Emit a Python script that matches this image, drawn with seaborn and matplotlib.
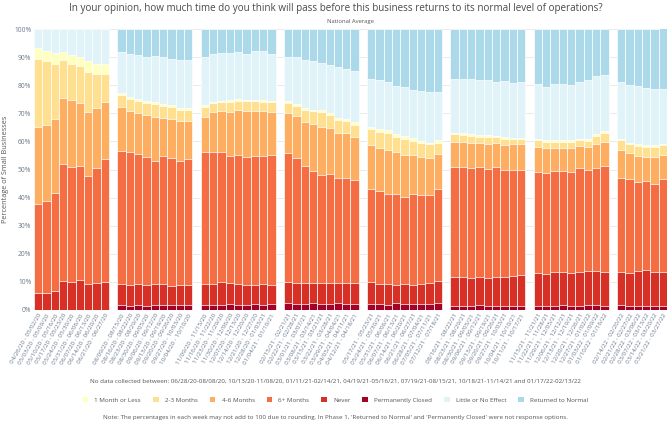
import matplotlib
matplotlib.use("Agg")
import matplotlib.pyplot as plt
from matplotlib.patches import Patch
import numpy as np
import pandas as pd
import seaborn as sns

weeks = [
    "04/26/20 - 05/02/20", "05/03/20 - 05/09/20", "05/10/20 - 05/16/20", "05/17/20 - 05/23/20", "05/24/20 - 05/30/20",
    "05/31/20 - 06/06/20", "06/07/20 - 06/13/20", "06/14/20 - 06/20/20", "06/21/20 - 06/27/20",
    "08/09/20 - 08/15/20", "08/16/20 - 08/22/20", "08/23/20 - 08/29/20", "08/30/20 - 09/05/20", "09/06/20 - 09/12/20",
    "09/13/20 - 09/19/20", "09/20/20 - 09/26/20", "09/27/20 - 10/03/20", "10/04/20 - 10/10/20",
    "11/09/20 - 11/15/20", "11/16/20 - 11/22/20", "11/23/20 - 11/29/20", "11/30/20 - 12/06/20", "12/07/20 - 12/13/20",
    "12/14/20 - 12/20/20", "12/21/20 - 12/27/20", "12/28/20 - 01/03/21", "01/04/21 - 01/10/21",
    "02/15/21 - 02/21/21", "02/22/21 - 02/28/21", "03/01/21 - 03/07/21", "03/08/21 - 03/14/21", "03/15/21 - 03/21/21",
    "03/22/21 - 03/28/21", "03/29/21 - 04/04/21", "04/05/21 - 04/11/21", "04/12/21 - 04/18/21",
    "05/17/21 - 05/23/21", "05/24/21 - 05/30/21", "05/31/21 - 06/06/21", "06/07/21 - 06/13/21", "06/14/21 - 06/20/21",
    "06/21/21 - 06/27/21", "06/28/21 - 07/04/21", "07/05/21 - 07/11/21", "07/12/21 - 07/18/21",
    "08/16/21 - 08/22/21", "08/23/21 - 08/29/21", "08/30/21 - 09/05/21", "09/06/21 - 09/12/21", "09/13/21 - 09/19/21",
    "09/20/21 - 09/26/21", "09/27/21 - 10/03/21", "10/04/21 - 10/10/21", "10/11/21 - 10/17/21",
    "11/15/21 - 11/21/21", "11/22/21 - 11/28/21", "11/29/21 - 12/05/21", "12/06/21 - 12/12/21", "12/13/21 - 12/19/21",
    "12/20/21 - 12/26/21", "12/27/21 - 01/02/22", "01/03/22 - 01/09/22", "01/10/22 - 01/16/22",
    "02/14/22 - 02/20/22", "02/21/22 - 02/27/22", "02/28/22 - 03/06/22", "03/07/22 - 03/13/22", "03/14/22 - 03/20/22",
    "03/21/22 - 03/27/22",
]
phase_sizes = [9, 9, 9, 9, 9, 9, 9, 6]

permanently_closed = [
    0, 0, 0, 0, 0, 0, 0, 0, 0,
    1.8, 1.3, 1.7, 1.5, 1.8, 1.7, 1.7, 1.8, 1.8,
    1.9, 1.7, 1.8, 2.1, 1.8, 1.8, 2.0, 1.8, 2.0,
    2.5, 2.0, 2.1, 2.5, 2.1, 2.1, 2.5, 2.1, 2.1,
    2.1, 2.1, 1.8, 2.4, 2.1, 2.0, 2.1, 2.0, 2.5,
    1.5, 1.5, 1.5, 1.9, 1.5, 1.5, 1.5, 1.5, 1.5,
    1.5, 1.5, 1.5, 1.9, 1.5, 1.5, 1.9, 1.8, 1.5,
    1.8, 1.5, 1.5, 1.5, 1.5, 1.5,
]
never = [
    6.2, 6.2, 6.7, 10.4, 9.8, 10.5, 9.3, 9.5, 9.9,
    7.5, 7.6, 7.6, 7.5, 7.5, 7.5, 6.9, 7.1, 7.2,
    7.4, 7.6, 8.0, 7.4, 7.4, 7.1, 7.0, 7.3, 6.8,
    7.4, 7.5, 7.4, 7.0, 7.4, 7.4, 7.0, 7.5, 7.5,
    7.7, 7.2, 7.5, 6.6, 7.2, 6.9, 7.3, 7.5, 7.9,
    10.2, 10.2, 9.9, 9.9, 9.8, 10.2, 10.2, 10.6, 11.0,
    11.6, 11.2, 12.0, 11.6, 11.6, 12.0, 11.9, 12.0, 12.0,
    11.7, 11.6, 12.3, 12.8, 12.0, 12.0,
]
six_plus = [
    31.5, 32.7, 35.0, 41.5, 41.2, 40.9, 38.4, 40.9, 43.8,
    47.4, 47.2, 46.1, 45.5, 43.8, 45.6, 45.4, 44.1, 44.8,
    46.8, 47.0, 46.3, 45.4, 45.8, 45.7, 45.9, 45.8, 46.4,
    45.8, 44.7, 41.6, 40.0, 38.6, 39.0, 37.3, 37.5, 36.7,
    33.2, 33.1, 32.0, 32.3, 30.8, 32.4, 31.6, 31.5, 32.5,
    39.3, 39.3, 39.0, 39.0, 38.9, 39.1, 38.2, 37.9, 37.5,
    35.9, 36.1, 36.0, 36.0, 35.9, 37.1, 36.1, 36.8, 37.9,
    33.6, 33.4, 31.8, 31.7, 31.3, 33.2,
]
four_six = [
    27.5, 26.9, 26.3, 23.7, 23.6, 22.2, 22.9, 21.6, 20.3,
    15.7, 14.7, 14.8, 14.9, 15.7, 13.7, 14.1, 14.4, 13.5,
    12.7, 14.2, 14.7, 15.6, 16.1, 16.1, 16.0, 15.8, 15.4,
    14.5, 14.8, 15.9, 16.8, 17.1, 16.4, 16.3, 16.0, 15.4,
    15.6, 15.3, 15.7, 15.0, 15.1, 13.8, 13.4, 13.2, 12.6,
    8.9, 8.9, 9.1, 8.7, 9.0, 8.5, 8.7, 8.9, 8.9,
    9.1, 8.9, 8.0, 8.0, 8.5, 7.9, 8.0, 8.6, 8.5,
    9.8, 9.2, 9.3, 8.5, 9.5, 8.4,
]
two_three = [
    24.2, 22.7, 19.7, 13.3, 12.9, 13.3, 14.0, 11.9, 10.0,
    4.1, 4.2, 4.2, 4.1, 4.4, 4.1, 4.0, 3.7, 3.7,
    3.5, 3.0, 3.2, 3.5, 3.3, 3.5, 3.3, 3.2, 3.3,
    3.4, 3.6, 4.2, 4.4, 5.2, 4.5, 4.4, 4.3, 4.3,
    5.7, 5.6, 6.1, 5.2, 5.6, 5.1, 5.0, 4.7, 4.1,
    2.6, 2.4, 2.5, 2.2, 2.5, 2.1, 2.2, 1.8, 1.8,
    2.4, 2.2, 2.4, 2.4, 2.4, 2.0, 2.2, 2.8, 3.1,
    3.6, 3.2, 3.4, 3.6, 3.6, 3.5,
]
one_month = [
    3.9, 3.8, 3.8, 2.8, 3.1, 3.2, 4.0, 3.8, 3.7,
    0.8, 0.7, 0.6, 0.7, 0.7, 0.7, 0.8, 0.7, 0.8,
    0.6, 0.4, 0.5, 0.6, 0.6, 0.7, 0.6, 0.7, 0.6,
    0.6, 0.6, 0.6, 0.6, 0.6, 0.7, 0.8, 0.7, 0.8,
    0.9, 1.0, 0.8, 1.0, 1.1, 0.9, 0.8, 0.7, 0.9,
    0.6, 0.6, 0.6, 0.6, 0.6, 0.6, 0.6, 0.6, 0.6,
    0.3, 0.5, 0.5, 0.5, 0.5, 0.5, 0.6, 0.5, 0.7,
    0.5, 0.7, 0.7, 0.6, 0.8, 0.6,
]
little_effect = [
    6.7, 7.7, 8.5, 8.3, 9.4, 9.9, 11.4, 12.3, 12.3,
    14.5, 15.5, 15.8, 15.9, 16.6, 16.6, 16.5, 17.2, 17.0,
    17.0, 17.2, 16.9, 16.8, 16.8, 16.3, 17.2, 17.4, 16.6,
    16.0, 16.8, 17.0, 17.2, 16.9, 17.2, 18.1, 17.6, 18.3,
    17.1, 17.6, 17.2, 17.3, 17.6, 17.2, 17.9, 17.9, 17.2,
    19.2, 19.4, 19.7, 19.6, 19.6, 19.1, 20.1, 19.4, 20.0,
    19.7, 19.1, 20.2, 20.0, 19.7, 20.1, 21.2, 20.6, 20.0,
    20.3, 20.5, 20.8, 20.3, 20.0, 19.4,
]
returned_normal = [
    0, 0, 0, 0, 0, 0, 0, 0, 0,
    8.2, 8.8, 9.2, 9.9, 9.5, 10.1, 10.6, 11.0, 11.2,
    10.1, 8.9, 8.6, 8.6, 8.2, 8.8, 8.0, 8.0, 8.9,
    9.8, 10.0, 11.2, 11.5, 12.1, 12.7, 13.6, 14.3, 14.9,
    17.7, 18.1, 18.9, 20.2, 20.5, 21.7, 21.9, 22.5, 22.3,
    17.7, 17.7, 17.7, 18.1, 18.1, 18.9, 18.5, 19.3, 18.7,
    19.5, 20.5, 19.4, 19.6, 19.9, 18.9, 18.1, 16.9, 16.3,
    18.7, 19.9, 20.2, 21.0, 21.3, 22.9,
]

# bottom -> top stacking order
series = [
    ("Permanently Closed", permanently_closed, "#a50026"),
    ("Never", never, "#d73027"),
    ("6+ Months", six_plus, "#f46d43"),
    ("4-6 Months", four_six, "#fdae61"),
    ("2-3 Months", two_three, "#fee090"),
    ("1 Month or Less", one_month, "#ffffbf"),
    ("Little or No Effect", little_effect, "#e0f3f8"),
    ("Returned to Normal", returned_normal, "#abd9e9"),
]
legend_order = ["1 Month or Less", "2-3 Months", "4-6 Months", "6+ Months", "Never",
                "Permanently Closed", "Little or No Effect", "Returned to Normal"]

# category order with one empty slot between phases
order = []
i = 0
for p, n in enumerate(phase_sizes):
    order.extend(weeks[i:i + n])
    i += n
    if p < len(phase_sizes) - 1:
        order.append(f"gap{p}")

df = pd.DataFrame({"week": weeks})
cum = np.zeros(len(weeks))
cums = []
for name, vals, col in series:
    cum = cum + np.array(vals, dtype=float)
    cums.append((name, cum.copy(), col))

sns.set_theme(style="white")
plt.rcParams["font.family"] = ["Open Sans", "DejaVu Sans"]

fig = plt.figure(figsize=(6.71, 4.25), dpi=100)
ax = fig.add_axes([34 / 671, 1 - 310 / 425, (667 - 34) / 671, (310 - 29) / 425])

for name, c, col in reversed(cums):
    d = df.copy()
    d["val"] = c
    sns.barplot(data=d, x="week", y="val", order=order, color=col, width=1.0,
                edgecolor="white", linewidth=0.5, saturation=1, errorbar=None, ax=ax, zorder=2)

ax.set_ylim(0, 100)
ax.set_xlim(-0.5, len(order) - 0.5)
ax.set_yticks(np.arange(0, 101, 10))
ax.set_yticklabels([f"{v}%" for v in range(0, 101, 10)], fontsize=4.8, color="#6a7a8c")
ax.yaxis.grid(True, color="#e6e6e6", linewidth=0.6, zorder=0)
ax.set_axisbelow(True)
ax.set_xticks(range(len(order)))
ax.set_xticklabels(["" if o.startswith("gap") else o for o in order], rotation=60,
                   ha="right", rotation_mode="anchor", fontsize=4.5, color="#6a7a8c")
ax.tick_params(axis="both", length=0, pad=2)
ax.set_xlabel("")
ax.set_ylabel("Percentage of Small Businesses", fontsize=5.2, color="#555555", labelpad=4)
for s in ax.spines.values():
    s.set_visible(False)

fig.text(0.5, 1 - 9 / 425,
         "In your opinion, how much time do you think will pass before this business returns to its normal level of operations?",
         ha="center", va="center", fontsize=7.1, color="#4a4a4a")
fig.text(350 / 671, 1 - 21 / 425, "National Average", ha="center", va="center", fontsize=4.2, color="#555555")
fig.text(0.5, 1 - 381 / 425,
         "No data collected between: 06/28/20-08/08/20, 10/13/20-11/08/20, 01/11/21-02/14/21, 04/19/21-05/16/21, "
         "07/19/21-08/15/21, 10/18/21-11/14/21 and 01/17/22-02/13/22",
         ha="center", va="center", fontsize=4.5, color="#555555")
fig.text(0.5, 1 - 418 / 425,
         "Note: The percentages in each week may not add to 100 due to rounding. In Phase 1, 'Returned to Normal' "
         "and 'Permanently Closed' were not response options.",
         ha="center", va="center", fontsize=4.5, color="#555555")

colors = {name: col for name, _, col in series}
handles = [Patch(facecolor=colors[n], edgecolor="none", label=n) for n in legend_order]
leg = fig.legend(handles=handles, loc="center", bbox_to_anchor=(0.5, 1 - 400 / 425), ncol=8,
                 frameon=False, fontsize=4.5, handlelength=0.9, handleheight=0.9,
                 columnspacing=1.9, handletextpad=1.0)
for t in leg.get_texts():
    t.set_color("#555555")

fig.savefig("out.png", dpi=100)
